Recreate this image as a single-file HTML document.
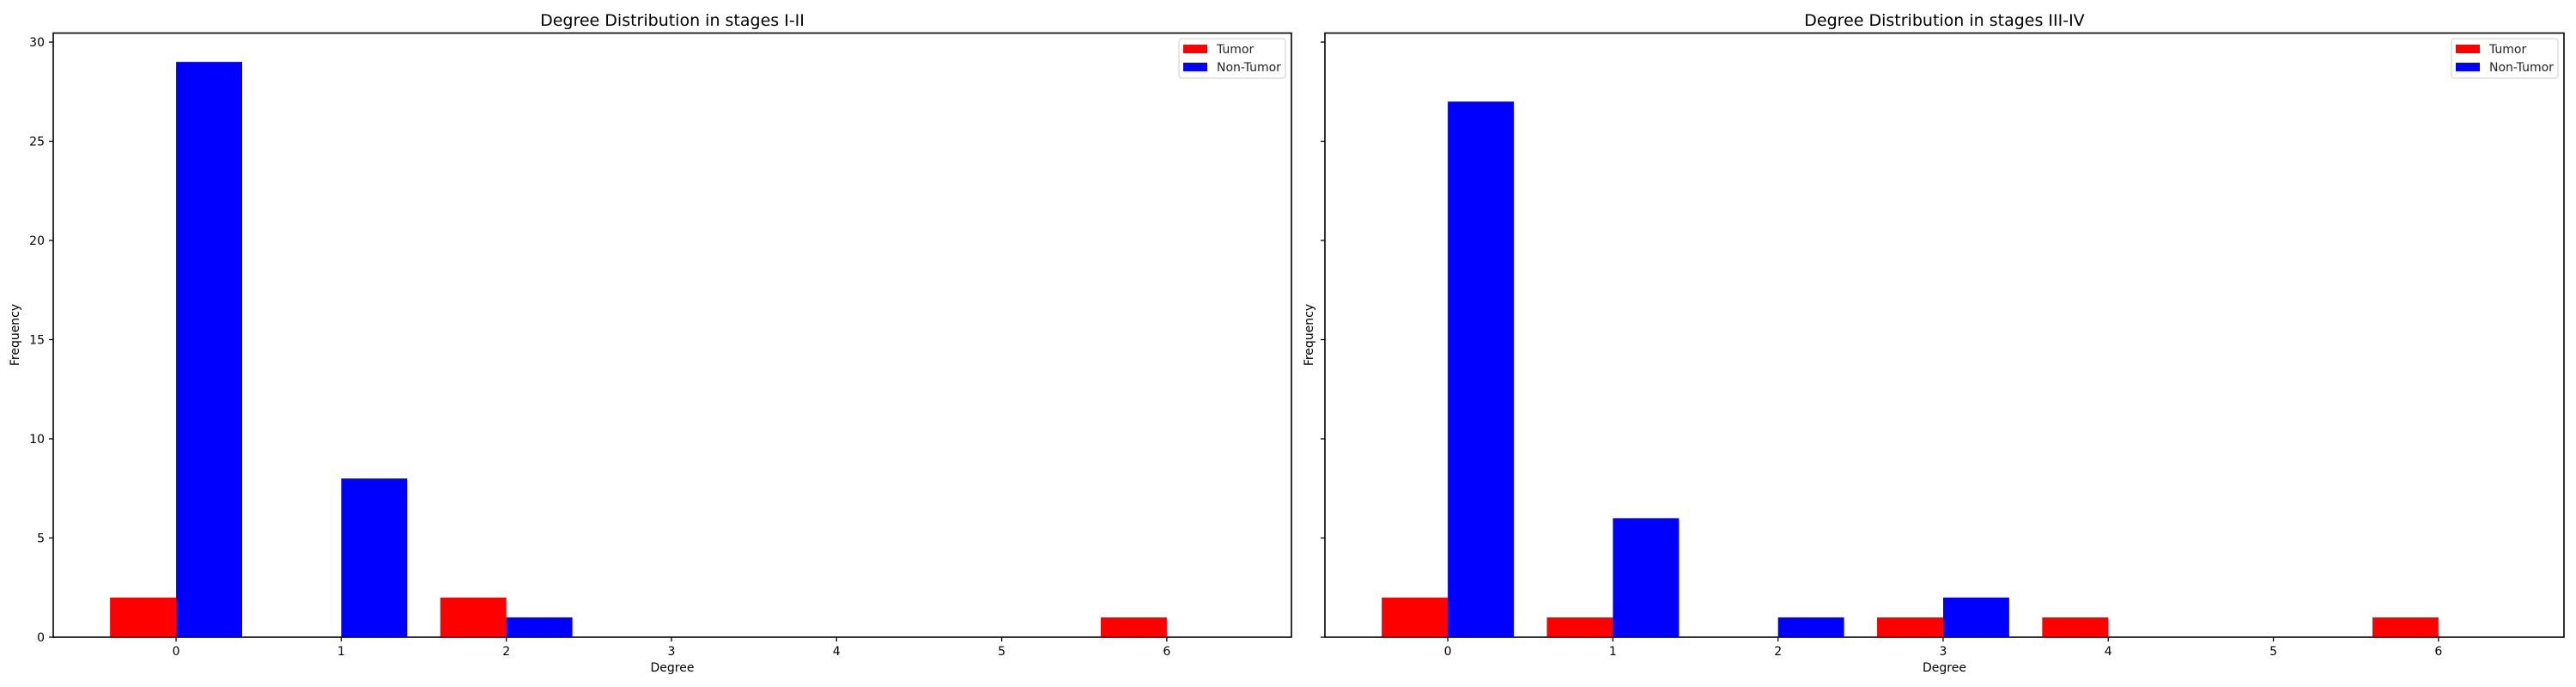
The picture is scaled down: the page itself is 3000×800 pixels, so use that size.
<!DOCTYPE html>
<html><head><meta charset="utf-8"><style>
body{margin:0;background:#fff}
svg{display:block;font-family:"DejaVu Sans","Liberation Sans",sans-serif}
</style></head><body>
<svg id="chart" width="3000" height="800" xmlns="http://www.w3.org/2000/svg"></svg>
<script>
const degrees = [0,1,2,3,4,5,6];
const tumorEarly = [2,0,2,0,0,0,1];
const nonTumorEarly = [29,8,1,0,0,0,0];
const tumorLate = [2,1,0,1,1,0,1];
const nonTumorLate = [27,6,1,2,0,0,0];
const yTicks = [0,5,10,15,20,25,30];
const xTicks = [0,1,2,3,4,5,6];
const titles = ["Degree Distribution in stages I-II","Degree Distribution in stages III-IV"];

const NS="http://www.w3.org/2000/svg";
const svgEl=document.getElementById('chart');
function mk(tag,attrs,parent,text){const e=document.createElementNS(NS,tag);for(const k in attrs)e.setAttribute(k,attrs[k]);if(text!==undefined)e.textContent=text;(parent||svgEl).appendChild(e);return e;}

const axTop=38.5,axBottom=742,ppu=23.1;
const ppx=192.3,xmin=-0.744;
function yS(v){return axBottom-v*ppu;}
const panels=[{left:62,right:1504,t:tumorEarly,n:nonTumorEarly,labels:true,key:'early'},
              {left:1543,right:2986,t:tumorLate,n:nonTumorLate,labels:false,key:'late'}];
panels.forEach((p,pi)=>{
  const xS=v=>p.left+(v-xmin)*ppx;
  const g=mk('g',{});
  
  
  degrees.forEach((d,i)=>{
    if(p.t[i]>0){const r=mk('rect',{x:xS(d-0.4),y:yS(p.t[i]),width:0.4*ppx,height:p.t[i]*ppu,fill:'#ff0000'},g);
      
      }
    if(p.n[i]>0){const r=mk('rect',{x:xS(d),y:yS(p.n[i]),width:0.4*ppx,height:p.n[i]*ppu,fill:'#0000ff'},g);
      
      }
  });
  const fr=mk('rect',{x:p.left,y:axTop,width:p.right-p.left,height:axBottom-axTop,fill:'none',stroke:'#000','stroke-width':1.6},g);
  
  
  yTicks.forEach(v=>{
    mk('line',{x1:p.left-5,x2:p.left,y1:yS(v),y2:yS(v),stroke:'#000','stroke-width':1.3},g);
    if(p.labels){const t=mk('text',{x:p.left-10,y:yS(v)+5,'text-anchor':'end','font-size':14,fill:'#000'},g,String(v));
      
      }
  });
  xTicks.forEach(v=>{
    mk('line',{x1:xS(v),x2:xS(v),y1:axBottom,y2:axBottom+5,stroke:'#000','stroke-width':1.3},g);
    const t=mk('text',{x:xS(v),y:axBottom+21,'text-anchor':'middle','font-size':14,fill:'#000'},g,String(v));
    
    
  });
  const cx=(p.left+p.right)/2;
  const tt=mk('text',{x:cx,y:30,'text-anchor':'middle','font-size':19,fill:'#000'},g,titles[pi]);
  
  
  const xl=mk('text',{x:cx,y:782,'text-anchor':'middle','font-size':14,fill:'#000'},g,'Degree');
  
  
  const yx=p.left-(p.labels?40:14);
  const yl=mk('text',{x:yx,y:390,'text-anchor':'middle','font-size':14,fill:'#000',transform:`rotate(-90 ${yx} 390)`},g,'Frequency');
  
  
  const lx=p.right-131;
  const lg=mk('g',{},g);
  
  
  mk('rect',{x:lx,y:45,width:124,height:46,rx:3,fill:'#fff',stroke:'#d6d6d6','stroke-width':1.2},lg);
  mk('rect',{x:lx+5,y:52,width:28,height:10,fill:'#ff0000'},lg);
  mk('rect',{x:lx+5,y:73,width:28,height:10,fill:'#0000ff'},lg);
  const e1=mk('text',{x:lx+44,y:62,'font-size':14,fill:'#222'},lg,'Tumor');
  
  
  const e2=mk('text',{x:lx+44,y:83,'font-size':14,fill:'#222'},lg,'Non-Tumor');
  
  
});
</script>
</body></html>
